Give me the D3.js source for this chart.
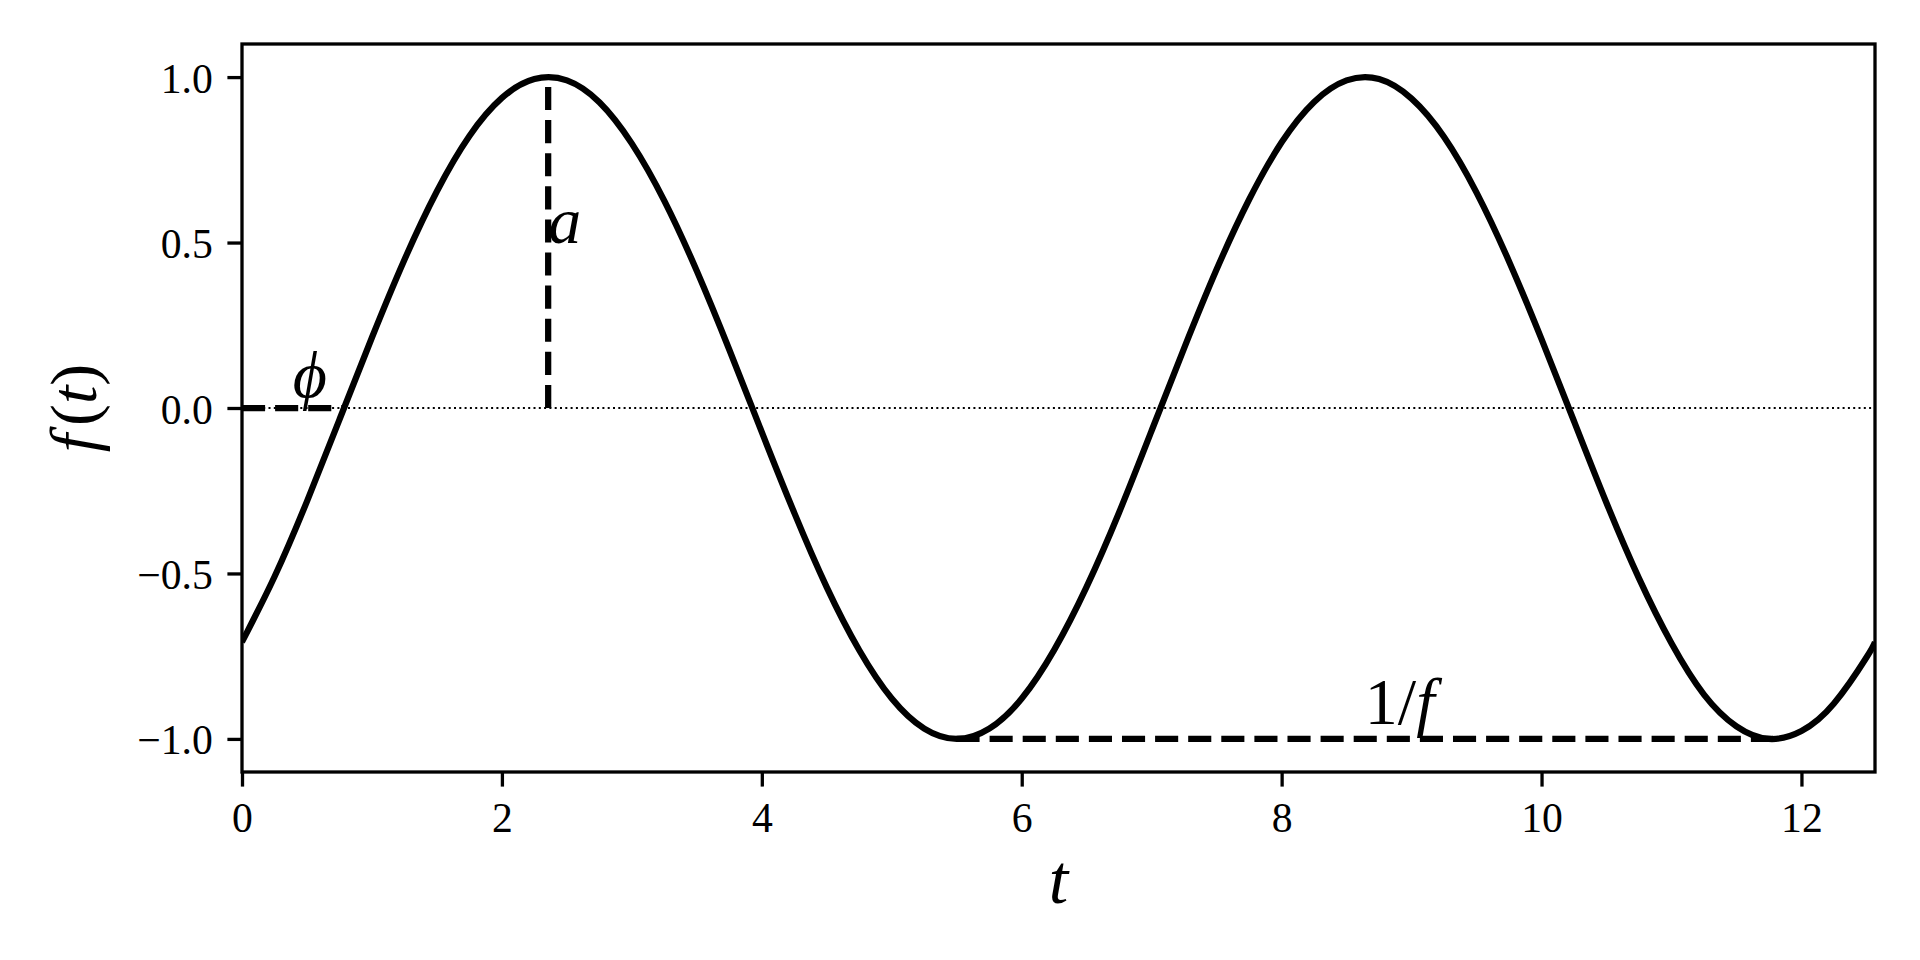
<!DOCTYPE html>
<html>
<head>
<meta charset="utf-8">
<script src="https://cdn.jsdelivr.net/npm/d3@7"></script>
<style>
  body { margin: 0; background: #fff; }
  text { font-family: "Liberation Serif", "DejaVu Serif", serif; fill: #000; }
</style>
</head>
<body>
<svg id="chart"></svg>
<script>
// values
const tValues = [0, 0.25, 0.5, 0.75, 1, 1.25, 1.5, 1.75, 2, 2.25, 2.5, 2.75, 3, 3.25, 3.5, 3.75,
  4, 4.25, 4.5, 4.75, 5, 5.25, 5.5, 5.75, 6, 6.25, 6.5, 6.75, 7, 7.25, 7.5, 7.75,
  8, 8.25, 8.5, 8.75, 9, 9.25, 9.5, 9.75, 10, 10.25, 10.5, 10.75, 11, 11.25, 11.5, 11.75,
  12, 12.25, 12.5, 12.566];
const fValues = [-0.707, -0.510, -0.282, -0.035, 0.213, 0.448, 0.655, 0.822, 0.937, 0.994, 0.990, 0.924,
  0.799, 0.626, 0.414, 0.176, -0.073, -0.317, -0.542, -0.732, -0.878, -0.969, -1.000, -0.969,
  -0.878, -0.731, -0.540, -0.315, -0.068, 0.181, 0.419, 0.630, 0.803, 0.925, 0.990, 0.994,
  0.935, 0.819, 0.651, 0.443, 0.208, -0.040, -0.287, -0.515, -0.711, -0.866, -0.962, -1.000,
  -0.976, -0.893, -0.754, -0.707];

const xTicks = [0, 2, 4, 6, 8, 10, 12];
const yTicks = [-1.0, -0.5, 0.0, 0.5, 1.0];
const xDomain = [0, 12.566];
const yDomain = [-1.1, 1.1];

// annotation guides: [t0, f0, t1, f1]
const phaseLine = [0, 0, 0.785, 0];
const ampLine = [2.356, 0, 2.356, 1];
const periodLine = [5.498, -1, 11.781, -1];

// annotation labels
const labelNames = ["\u03D5", "a", "1/f"];
const labelT = [0.39, 2.356, 8.64];
const labelF = [0, 0.5, -1];

const W = 1920, H = 960;
const margin = { left: 242, right: 45, top: 44, bottom: 188 };
const lw = 6.25;

const svg = d3.select("#chart").attr("width", W).attr("height", H);

const x = d3.scaleLinear().domain(xDomain).range([margin.left, W - margin.right]);
const y = d3.scaleLinear().domain(yDomain).range([H - margin.bottom, margin.top]);

svg.append("defs").append("clipPath").attr("id", "clip")
  .append("rect")
  .attr("x", x(xDomain[0])).attr("y", y(yDomain[1]))
  .attr("width", x(xDomain[1]) - x(xDomain[0]))
  .attr("height", y(yDomain[0]) - y(yDomain[1]));

const plot = svg.append("g").attr("clip-path", "url(#clip)");

// zero reference line (dotted)
plot.append("line")
  .attr("x1", x(xDomain[0])).attr("x2", x(xDomain[1]))
  .attr("y1", y(0)).attr("y2", y(0))
  .attr("stroke", "#000").attr("stroke-width", 2)
  .attr("stroke-dasharray", "2 3.3");

// main curve
const data = tValues.map((t, i) => ({ t: t, f: fValues[i] }));
const line = d3.line().x(d => x(d.t)).y(d => y(d.f)).curve(d3.curveNatural);

plot.append("path")
  .datum(data)
  .attr("d", line)
  .attr("fill", "none")
  .attr("stroke", "#000")
  .attr("stroke-width", lw)
  .attr("stroke-linejoin", "round");

// dashed guides
[phaseLine, ampLine, periodLine].forEach(l => {
  plot.append("line")
    .attr("x1", x(l[0])).attr("y1", y(l[1]))
    .attr("x2", x(l[2])).attr("y2", y(l[3]))
    .attr("stroke", "#000")
    .attr("stroke-width", lw)
    .attr("stroke-dasharray", "23.1 10");
});

// annotation text (bottom aligned: lift those with descenders)
const lift = [11, 0, 15];
labelNames.forEach((name, i) => {
  const txt = svg.append("text")
    .attr("x", x(labelT[i]))
    .attr("y", y(labelF[i]) - lift[i])
    .style("font-size", "66px");
  if (name === "1/f") {
    txt.append("tspan").text("1/");
    txt.append("tspan").style("font-style", "italic").text("f");
  } else {
    txt.style("font-style", "italic").text(name);
  }
});

// axes
const tickLen = 14.6, pad = 14.6;
const xAxis = d3.axisBottom(x).tickValues(xTicks).tickSize(tickLen).tickPadding(pad)
  .tickFormat(d3.format("d"));
const yAxis = d3.axisLeft(y).tickValues(yTicks).tickSize(tickLen).tickPadding(pad)
  .tickFormat(d => d3.format(".1f")(d).replace("-", "\u2212"));

const gx = svg.append("g")
  .attr("transform", `translate(0, ${y(yDomain[0])})`)
  .call(xAxis);
const gy = svg.append("g")
  .attr("transform", `translate(${x(xDomain[0])}, 0)`)
  .call(yAxis);

[gx, gy].forEach(g => {
  g.select(".domain").remove();
  g.selectAll(".tick line").attr("stroke", "#000").attr("stroke-width", 3.3);
  g.selectAll(".tick text")
    .style("font-size", "41.7px")
    .style("font-family", "'Liberation Serif', serif")
    .attr("fill", "#000");
});
gx.selectAll(".tick text").attr("dy", null).attr("y", 60);
gy.selectAll(".tick text").attr("dy", null).attr("y", 15);

// frame
svg.append("rect")
  .attr("x", x(xDomain[0])).attr("y", y(yDomain[1]))
  .attr("width", x(xDomain[1]) - x(xDomain[0]))
  .attr("height", y(yDomain[0]) - y(yDomain[1]))
  .attr("fill", "none")
  .attr("stroke", "#000")
  .attr("stroke-width", 3.3);

// axis labels
svg.append("text")
  .attr("x", (x(xDomain[0]) + x(xDomain[1])) / 2)
  .attr("y", 903)
  .attr("text-anchor", "middle")
  .style("font-size", "70px")
  .style("font-style", "italic")
  .text("t");

const yl = svg.append("text")
  .attr("transform", `translate(96, ${(y(yDomain[0]) + y(yDomain[1])) / 2}) rotate(-90)`)
  .attr("text-anchor", "middle")
  .style("font-size", "66px");
yl.append("tspan").style("font-style", "italic").text("f");
yl.append("tspan").attr("dx", 8).text("(");
yl.append("tspan").style("font-style", "italic").text("t");
yl.append("tspan").text(")");
</script>
</body>
</html>
